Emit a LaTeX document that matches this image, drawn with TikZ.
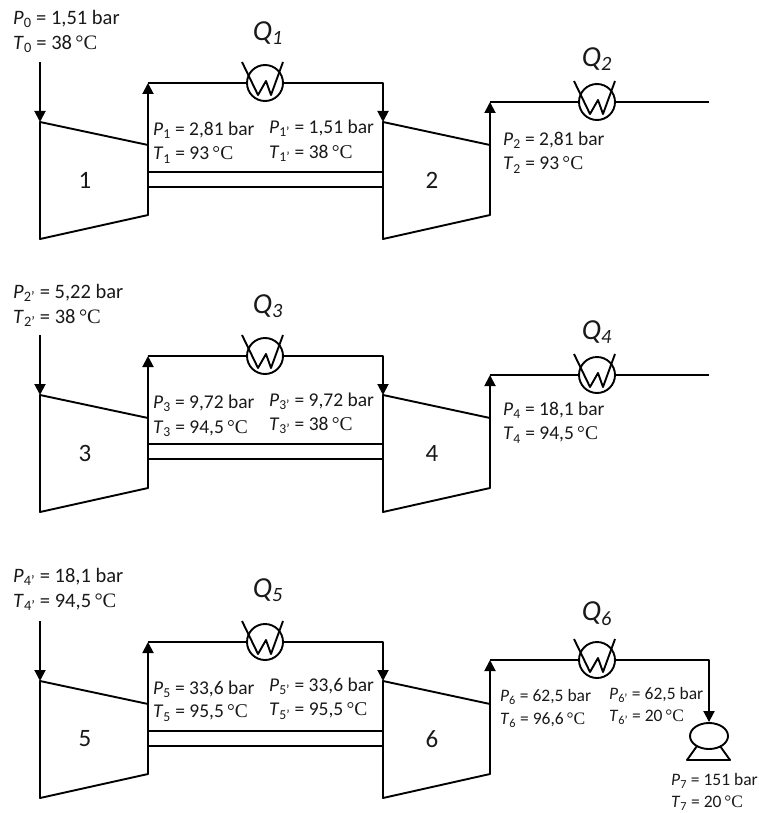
\documentclass[tikz,border=0pt]{standalone}
\usepackage{fontspec}
\setmainfont{Carlito}
\newfontfamily\degfont{Liberation Serif}
\usetikzlibrary{arrows.meta,shapes.geometric}

\begin{document}
\begin{tikzpicture}[x=1pt, y=-1pt, line join=round,
    pipe/.style={line width=1.9pt},
    flow/.style={line width=1.9pt, -{Triangle[length=11pt,width=11pt]}},
    body/.style={line width=1.9pt, fill=white},
    coolerbody/.style={circle, draw, line width=1.9pt, minimum size=36pt, inner sep=0pt},
    pumpbody/.style={ellipse, draw, line width=1.9pt, minimum width=38pt, minimum height=26pt, inner sep=0pt},
    lab/.style={anchor=west, inner sep=0pt, font=\fontsize{19.5}{22}\selectfont, text=black!90},
    inlab/.style={lab, font=\fontsize{20.5}{23}\selectfont},
    smalllab/.style={lab, font=\fontsize{17.5}{20}\selectfont},
    num/.style={inner sep=0pt, font=\fontsize{25}{28}\selectfont, text=black!90},
    heat/.style={inner sep=0pt, font=\fontsize{29}{32}\selectfont\itshape, text=black!90}]
      \useasboundingbox (0,0) rectangle (759,813);

      \def\pv#1#2#3{\textit{#1}\textsubscript{#2} = #3}
      \def\dg{\,{\degfont °C}}
      % Cooler symbol: circle with a W through it
      \def\cooler#1#2#3{
        \node[coolerbody] (#1) at (#2,#3) {};
        \draw[pipe] ([shift={(-23,-21)}]#1.center) -- ([shift={(-7,12)}]#1.center)
          -- ([shift={(1,-2)}]#1.center) -- ([shift={(6,12)}]#1.center) -- ([shift={(18,-21)}]#1.center);
      }

      % Stage 1 and 2
      \def\dy{0}
      \coordinate (A) at (40,122+\dy);
      \coordinate (B) at (148,145+\dy);
      \coordinate (C) at (148,215+\dy);
      \coordinate (D) at (40,239+\dy);
      \coordinate (E) at (383,122+\dy);
      \coordinate (F) at (490,145+\dy);
      \coordinate (G) at (490,215+\dy);
      \coordinate (H) at (383,239+\dy);
      \coordinate (I) at (40,62+\dy);
      \coordinate (J) at (148,83+\dy);
      \coordinate (K) at (383,83+\dy);
      \coordinate (L) at (490,102+\dy);
      \coordinate (M) at (709,102+\dy);
      \draw[body] (A)--(B)--(C)--(D)--cycle;
      \draw[body] (E)--(F)--(G)--(H)--cycle;
      \draw[pipe] (148,172+\dy) -- (383,172+\dy);
      \draw[pipe] (148,187+\dy) -- (383,187+\dy);
      \cooler{cooler1}{265}{83+\dy}
      \cooler{cooler2}{597}{102+\dy}
      \draw[flow] (I) -- (A);
      \draw[flow] (C) -- (J);
      \draw[pipe] (J) -- (cooler1.west);
      \draw[flow] (cooler1.east) -- (K) -- (E);
      \draw[flow] (G) -- (L);
      \draw[pipe] (L) -- (cooler2.west);
      \draw[pipe] (cooler2.east) -- (M);
      \node[num] (n1) at (85,180+\dy) {1};
      \node[num] (n2) at (432,180+\dy) {2};
      \node[heat] (q1) at (268,33+\dy) {Q\textsubscript{1}};
      \node[heat] (q2) at (597,59+\dy) {Q\textsubscript{2}};
      \node[inlab] (p0) at (13,19+\dy) {\pv{P}{0}{1,51 bar}};
      \node[inlab] (t0) at (13,44+\dy) {\pv{T}{0}{38\dg}};
      \node[lab] (p1) at (153,130+\dy) {\pv{P}{1}{2,81 bar}};
      \node[lab] (t1) at (153,155+\dy) {\pv{T}{1}{93\dg}};
      \node[lab] (p1b) at (269,128+\dy) {\pv{P}{1'}{1,51 bar}};
      \node[lab] (t1b) at (269,153+\dy) {\pv{T}{1'}{38\dg}};
      \node[lab] (p2) at (503,140+\dy) {\pv{P}{2}{2,81 bar}};
      \node[lab] (t2) at (503,165+\dy) {\pv{T}{2}{93\dg}};

      % Stage 3 and 4
      \def\dy{273}
      \coordinate (A) at (40,122+\dy);
      \coordinate (B) at (148,145+\dy);
      \coordinate (C) at (148,215+\dy);
      \coordinate (D) at (40,239+\dy);
      \coordinate (E) at (383,122+\dy);
      \coordinate (F) at (490,145+\dy);
      \coordinate (G) at (490,215+\dy);
      \coordinate (H) at (383,239+\dy);
      \coordinate (I) at (40,62+\dy);
      \coordinate (J) at (148,83+\dy);
      \coordinate (K) at (383,83+\dy);
      \coordinate (L) at (490,102+\dy);
      \coordinate (M) at (709,102+\dy);
      \draw[body] (A)--(B)--(C)--(D)--cycle;
      \draw[body] (E)--(F)--(G)--(H)--cycle;
      \draw[pipe] (148,171+\dy) -- (383,171+\dy);
      \draw[pipe] (148,186+\dy) -- (383,186+\dy);
      \cooler{cooler3}{265}{83+\dy}
      \cooler{cooler4}{597}{102+\dy}
      \draw[flow] (I) -- (A);
      \draw[flow] (C) -- (J);
      \draw[pipe] (J) -- (cooler3.west);
      \draw[flow] (cooler3.east) -- (K) -- (E);
      \draw[flow] (G) -- (L);
      \draw[pipe] (L) -- (cooler4.west);
      \draw[pipe] (cooler4.east) -- (M);
      \node[num] (n3) at (85,180+\dy) {3};
      \node[num] (n4) at (432,180+\dy) {4};
      \node[heat] (q3) at (268,33+\dy) {Q\textsubscript{3}};
      \node[heat] (q4) at (597,59+\dy) {Q\textsubscript{4}};
      \node[inlab] (p2b) at (13,20+\dy) {\pv{P}{2'}{5,22 bar}};
      \node[inlab] (t2b) at (13,45+\dy) {\pv{T}{2'}{38\dg}};
      \node[lab] (p3) at (153,130+\dy) {\pv{P}{3}{9,72 bar}};
      \node[lab] (t3) at (153,156+\dy) {\pv{T}{3}{94,5\dg}};
      \node[lab] (p3b) at (269,128+\dy) {\pv{P}{3'}{9,72 bar}};
      \node[lab] (t3b) at (269,152+\dy) {\pv{T}{3'}{38\dg}};
      \node[lab] (p4) at (503,137+\dy) {\pv{P}{4}{18,1 bar}};
      \node[lab] (t4) at (503,162+\dy) {\pv{T}{4}{94,5\dg}};

      % Stage 5 and 6
      \def\dy{559}
      \coordinate (A) at (40,122+\dy);
      \coordinate (B) at (148,145+\dy);
      \coordinate (C) at (148,215+\dy);
      \coordinate (D) at (40,239+\dy);
      \coordinate (E) at (383,122+\dy);
      \coordinate (F) at (490,145+\dy);
      \coordinate (G) at (490,215+\dy);
      \coordinate (H) at (383,239+\dy);
      \coordinate (I) at (40,62+\dy);
      \coordinate (J) at (148,83+\dy);
      \coordinate (K) at (383,83+\dy);
      \coordinate (L) at (490,101+\dy);
      \coordinate (M) at (709,101+\dy);
      \draw[body] (A)--(B)--(C)--(D)--cycle;
      \draw[body] (E)--(F)--(G)--(H)--cycle;
      \draw[pipe] (148,172+\dy) -- (383,172+\dy);
      \draw[pipe] (148,187+\dy) -- (383,187+\dy);
      \cooler{cooler5}{265}{83+\dy}
      \cooler{cooler6}{597}{101+\dy}
      % Pump at the end of the line
      \node[pumpbody] (pump) at (709,736) {};
      \coordinate (R) at (687,760);
      \coordinate (S) at (730,760);
      \draw[pipe] (697,746) -- (R) -- (S) -- (720,746);
      \draw[flow] (I) -- (A);
      \draw[flow] (C) -- (J);
      \draw[pipe] (J) -- (cooler5.west);
      \draw[flow] (cooler5.east) -- (K) -- (E);
      \draw[flow] (G) -- (L);
      \draw[pipe] (L) -- (cooler6.west);
      \draw[flow] (cooler6.east) -- (M) -- (pump.north);
      \node[num] (n5) at (85,180+\dy) {5};
      \node[num] (n6) at (432,180+\dy) {6};
      \node[heat] (q5) at (268,31+\dy) {Q\textsubscript{5}};
      \node[heat] (q6) at (597,55+\dy) {Q\textsubscript{6}};
      \node[inlab] (p4b) at (13,18+\dy) {\pv{P}{4'}{18,1 bar}};
      \node[inlab] (t4b) at (13,43+\dy) {\pv{T}{4'}{94,5\dg}};
      \node[lab] (p5) at (153,130+\dy) {\pv{P}{5}{33,6 bar}};
      \node[lab] (t5) at (153,154+\dy) {\pv{T}{5}{95,5\dg}};
      \node[lab] (p5b) at (269,127+\dy) {\pv{P}{5'}{33,6 bar}};
      \node[lab] (t5b) at (269,152+\dy) {\pv{T}{5'}{95,5\dg}};
      \node[smalllab] (p6) at (500,697) {\pv{P}{6}{62,5 bar}};
      \node[smalllab] (t6) at (500,720) {\pv{T}{6}{96,6\dg}};
      \node[smalllab] (p6b) at (609,695) {\pv{P}{6'}{62,5 bar}};
      \node[smalllab] (t6b) at (609,717) {\pv{T}{6'}{20\dg}};
      \node[smalllab] (p7) at (671,781) {\pv{P}{7}{151 bar}};
      \node[smalllab] (t7) at (671,803) {\pv{T}{7}{20\dg}};
\end{tikzpicture}
\end{document}
